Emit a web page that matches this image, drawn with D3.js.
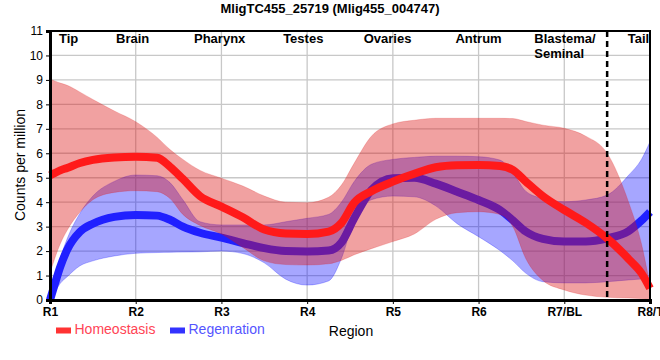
<!DOCTYPE html>
<html><head><meta charset="utf-8">
<script src="https://cdn.jsdelivr.net/npm/d3@7"></script>
<style>body{margin:0;background:#fff;} svg{display:block;font-family:"Liberation Sans",Arial,sans-serif;}</style>
</head><body><svg id="c" width="660" height="360"></svg>
<script>
const title = "MligTC455_25719 (Mlig455_004747)";
const xTickLabels = ["R1","R2","R3","R4","R5","R6","R7/BL","R8/T"];
const yTicks = [0,1,2,3,4,5,6,7,8,9,10,11];
const regionNames = ["Tip","Brain","Pharynx","Testes","Ovaries","Antrum","Blastema/\nSeminal","Tail"];
const regionPos = [1.105,1.77,2.68,3.72,4.66,5.73,6.65,7.74];
const boundary = 7.5;
const xs =        [1,  1.06,1.12,1.2, 1.35,1.5, 1.75,2,   2.25,2.4, 2.55,2.75,3,   3.25,3.5, 3.75,4,   4.25,4.4, 4.55,4.75,5,   5.25,5.5, 5.75,6,   6.25,6.4, 6.55,6.75,7,   7.25,7.5, 7.75,7.9, 8];
const homeoMean = [5.1,5.2, 5.3, 5.4, 5.6, 5.73,5.83,5.86,5.82,5.45,4.95,4.25,3.82,3.38,2.88,2.72,2.70,2.8, 3.15,3.98,4.45,4.84,5.16,5.43,5.51,5.52,5.48,5.32,4.85,4.25,3.68,3.16,2.52,1.68,1.1, 0.48];
const homeoHigh = [9.03,8.95,8.87,8.78,8.5,8.2, 7.73,7.29,6.65,6.15,5.75,5.3, 4.98,4.66,4.25,4.0, 3.98,4.2, 4.7, 5.6, 6.7, 7.2, 7.35,7.43,7.43,7.43,7.43,7.42,7.3, 7.15,7.02,6.7, 6.0, 4.0, 2.3, 0.6];
const homeoLow =  [1.1, 1.75,2.3, 2.85,3.6, 4.1, 4.4, 4.47,4.43,4.15,3.5, 3.05,2.7, 2.15,1.6, 1.45,1.43,1.48,1.62,1.85,2.1, 2.39,2.7, 3.3, 3.57,3.61,3.5, 3.0, 1.7, 0.8, 0.41,0.2, 0.11,0.08,0.06,0.05];
const regenMean = [0,   0.7, 1.36,2.05,2.79,3.12,3.4, 3.48,3.45,3.28,3.0, 2.75,2.55,2.33,2.12,2.0, 1.98,2.02,2.35,3.35,4.5, 4.98,5.0, 4.76,4.43,4.09,3.68,3.26,2.8, 2.5, 2.39,2.39,2.52,2.82,3.25,3.6];
const regenHigh = [0.15,0.9, 1.7, 2.5, 3.55,4.25,4.85,5.11,5.08,4.8, 4.1, 3.2, 3.07,3.07,3.07,3.2, 3.34,3.5, 4.0, 4.85,5.55,5.75,5.83,5.88,5.88,5.86,5.72,5.2, 4.45,4.15,4.02,4.09,4.29,5.1, 5.75,6.47];
const regenLow =  [0,   0.35,0.68,0.95,1.4, 1.6, 1.8, 1.91,1.94,1.95,1.96,1.97,2.0, 1.9, 1.52,0.85,0.61,0.78,1.7, 3.3, 4.1, 4.25,4.22,3.85,3.12,2.59,2.02,1.6, 1.1, 0.75,0.7, 0.7, 0.75,0.82,0.86,0.89];

const svg = d3.select("#c");
const m = {l:50, r:10, t:31, b:60};
const W = 660, H = 360;
const x = d3.scaleLinear().domain([1,8]).range([m.l, W-m.r]);
const y = d3.scaleLinear().domain([0,11]).range([H-m.b, m.t]);

// grid
svg.append("g").selectAll("line.h").data(yTicks.slice(1)).join("line")
  .attr("x1", x(1)).attr("x2", x(8)).attr("y1", d=>y(d)).attr("y2", d=>y(d))
  .attr("stroke", "#c8c8c8").attr("stroke-width", 1.3);
svg.append("g").selectAll("line.v").data(d3.range(2,9)).join("line")
  .attr("x1", d=>x(d)).attr("x2", d=>x(d)).attr("y1", y(0)).attr("y2", y(11))
  .attr("stroke", "#c8c8c8").attr("stroke-width", 1.3);

const pts = (lo, hi) => xs.map((v,i)=>({x:v, lo:lo[i], hi:hi[i]}));
const area = d3.area().x(d=>x(d.x)).y0(d=>y(d.lo)).y1(d=>y(d.hi)).curve(d3.curveMonotoneX);
const line = d3.line().x(d=>x(d.x)).y(d=>y(d.v)).curve(d3.curveMonotoneX);
const lp = arr => xs.map((v,i)=>({x:v, v:arr[i]}));

svg.append("path").attr("d", area(pts(regenLow, regenHigh))).attr("fill", "#0000ff").attr("fill-opacity", 0.35)
  .attr("stroke", "#0000ff").attr("stroke-opacity", 0.25);
svg.append("path").attr("d", line(lp(regenMean))).attr("fill","none").attr("stroke","#2020ff").attr("stroke-width",8);
svg.append("path").attr("d", area(pts(homeoLow, homeoHigh))).attr("fill", "#dc1414").attr("fill-opacity", 0.4)
  .attr("stroke", "#dc1414").attr("stroke-opacity", 0.2);
svg.append("path").attr("d", line(lp(homeoMean))).attr("fill","none").attr("stroke","#ff1a1a").attr("stroke-width",8);

// dashed boundary
svg.append("line").attr("x1", x(boundary)).attr("x2", x(boundary)).attr("y1", y(11)).attr("y2", y(0))
  .attr("stroke","#000").attr("stroke-width",2.5).attr("stroke-dasharray","6,4");

// frame
svg.append("rect").attr("x", x(1)).attr("y", y(11)).attr("width", x(8)-x(1)).attr("height", y(0)-y(11))
  .attr("fill","none").attr("stroke","#000").attr("stroke-width",2);

// axes
const yAxis = svg.append("g").attr("transform",`translate(${x(1)},0)`)
  .call(d3.axisLeft(y).tickValues(yTicks).tickFormat(d3.format("d")).tickSize(4).tickPadding(3));
yAxis.select(".domain").attr("stroke-width",3);
yAxis.selectAll("text").attr("font-size",12).attr("fill","#000").attr("font-family","Liberation Sans, Arial");
const xAxis = svg.append("g").attr("transform",`translate(0,${y(0)})`)
  .call(d3.axisBottom(x).tickValues(d3.range(1,9)).tickFormat((d,i)=>xTickLabels[i]).tickSize(4).tickPadding(3));
xAxis.select(".domain").attr("stroke-width",3);
xAxis.selectAll("text").attr("font-size",12).attr("font-weight","bold").attr("fill","#000").attr("font-family","Liberation Sans, Arial");

// region labels
const rg = svg.append("g").attr("font-size",13).attr("font-weight","bold").attr("fill","#000");
regionNames.forEach((n,i)=>{
  const t = rg.append("text").attr("x", x(regionPos[i])).attr("y", 43);
  n.split("\n").forEach((s,j)=>t.append("tspan").attr("x", x(regionPos[i])).attr("dy", j?15:0).text(s));
});

// title
svg.append("text").attr("x", 330).attr("y", 13).attr("text-anchor","middle").attr("font-size",13)
  .attr("font-weight","bold").text(title);
// y title
svg.append("text").attr("transform","translate(25,165) rotate(-90)").attr("text-anchor","middle")
  .attr("font-size",14).text("Counts per million");
// x title
svg.append("text").attr("x", 351).attr("y", 336).attr("text-anchor","middle").attr("font-size",14).text("Region");

// legend
const leg = [{name:"Homeostasis", c:"#ff3333", t:"#ff4455", x:56},{name:"Regenration", c:"#3333ff", t:"#5555ff", x:170}];
leg.forEach(l=>{
  svg.append("rect").attr("x", l.x).attr("y", 327.5).attr("width", 15).attr("height", 6).attr("fill", l.c);
  svg.append("text").attr("x", l.x+18.5).attr("y", 334).attr("font-size",14).attr("fill", l.t).text(l.name);
});
</script></body></html>
